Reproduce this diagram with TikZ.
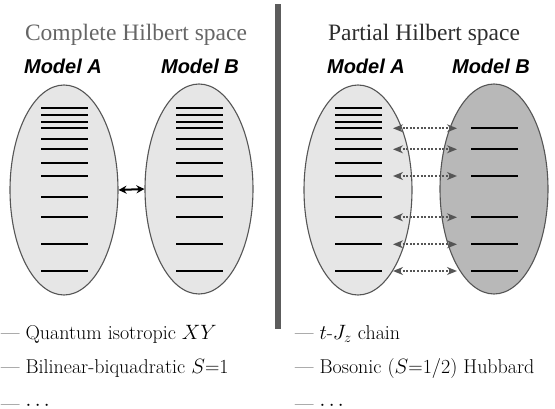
\documentclass[tikz,border=0pt]{standalone}
\usepackage{fontspec}
\newfontfamily\titlefont{Liberation Serif}
\newfontfamily\modelfont{Liberation Sans}
\usetikzlibrary{shapes.geometric,arrows.meta}
\definecolor{edgegray}{HTML}{555555}
\definecolor{lightfill}{HTML}{E6E6E6}
\definecolor{darkfill}{HTML}{B8B8B8}
\definecolor{bargray}{HTML}{5C5C5C}
\definecolor{titlegrayA}{HTML}{666666}
\definecolor{titlegrayB}{HTML}{2E2E2E}
\tikzset{
  blob/.style={ellipse, draw=edgegray, line width=1.1pt, inner sep=0pt, minimum width=108pt, minimum height=210pt},
  level/.style={line width=2pt, black},
  title/.style={anchor=base, font=\titlefont\fontsize{23.5}{28}\selectfont},
  model/.style={anchor=base, font=\modelfont\bfseries\itshape\fontsize{20}{24}\selectfont},
  item/.style={anchor=base west, inner sep=0pt, text=black, font=\fontsize{20}{24}\selectfont},
  solidarrow/.style={line width=2pt, black, {Stealth[length=8pt,width=8pt]}-{Stealth[length=8pt,width=8pt]}},
  dotarrow/.style={line width=2pt, edgegray, dash pattern=on 2pt off 1.6pt, {Stealth[length=10pt,width=8pt]}-{Stealth[length=10pt,width=8pt]}}
}
\begin{document}
\begin{tikzpicture}[x=1pt,y=-1pt]
\useasboundingbox (0,0) rectangle (555,409);
% divider
\fill[bargray] (275,4) rectangle (281,329);
% titles
\node[title, text=titlegrayA] (t1) at (136,41) {Complete Hilbert space};
\node[title, text=titlegrayB] (t2) at (424,41) {Partial Hilbert space};
\node[model] (m1) at (63,74) {Model A};
\node[model] (m2) at (200,74) {Model B};
\node[model] (m3) at (366,74) {Model A};
\node[model] (m4) at (491,74) {Model B};
% ellipses
\node[blob, fill=lightfill] (ea) at (64,190) {};
\node[blob, fill=lightfill] (eb) at (199,189) {};
\node[blob, fill=lightfill] (ec) at (358,190) {};
\node[blob, fill=darkfill] (ed) at (494,189) {};
% levels
\foreach \y in {108.3,115,121.7,128.3,139.3,149.3,162.7,176,196.7,217.3,244.3,271} {
  \draw[level] (41,\y) -- (88,\y);
  \draw[level] (176,\y) -- (223,\y);
  \draw[level] (335,\y) -- (382,\y);
}
\foreach \y in {128.3,149.3,176,217.3,244.3,271} {
  \draw[level] (471,\y) -- (518,\y);
}
% connectors
\draw[solidarrow] (ea.east) -- (eb.west);
\foreach \y [count=\i] in {128.3,149.3,176,217.3,244.3,271} {
  \coordinate (pa\i) at (393,\y);
  \coordinate (pb\i) at (457,\y);
  \draw[dotarrow] (pa\i) -- (pb\i);
}
% model lists
\node[item] (l1) at (1,339) {--- Quantum isotropic $XY$};
\node[item] (l2) at (1,373) {--- Bilinear-biquadratic $S$=1};
\node[item] (l3) at (1,410) {--- $\cdots$};
\node[item] (r1) at (295,339) {--- $t$-$J_z$ chain};
\node[item] (r2) at (295,373) {--- Bosonic ($S$=1/2) Hubbard};
\node[item] (r3) at (295,410) {--- $\cdots$};
\end{tikzpicture}
\end{document}
